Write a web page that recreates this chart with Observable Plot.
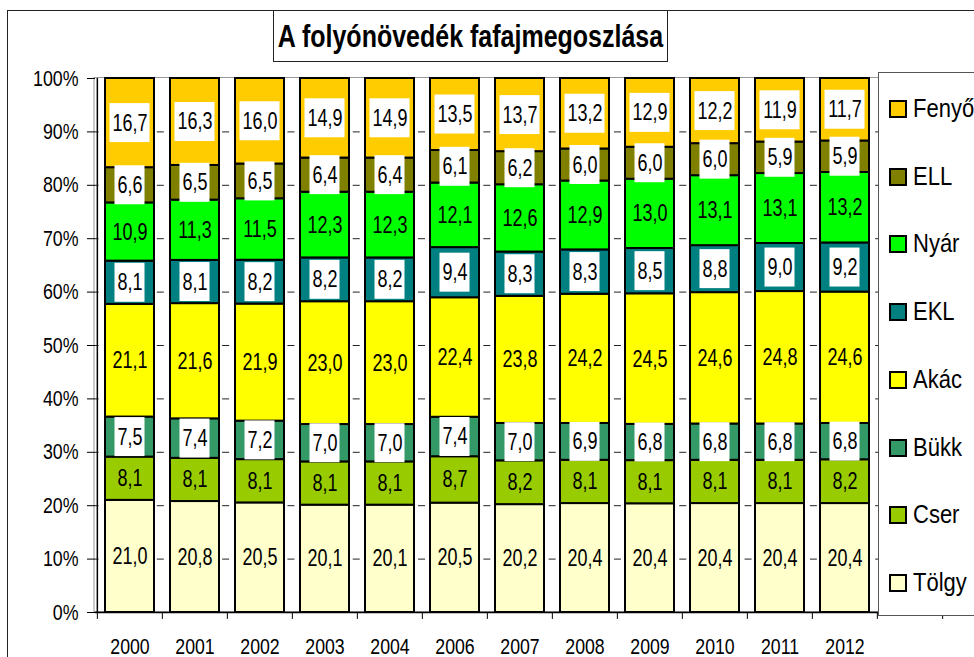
<!DOCTYPE html>
<html>
<head>
<meta charset="utf-8">
<script src="https://cdn.jsdelivr.net/npm/d3@7"></script>
<script src="https://cdn.jsdelivr.net/npm/@observablehq/plot@0.6"></script>
<style>
  body { margin: 0; background: #fff; font-family: "Liberation Sans", Arial, sans-serif; }
  #wrap { position: relative; width: 974px; height: 657px; overflow: hidden; background: #fff; }
  #chart { position: absolute; left: 0; top: 0; }
  #frame { position: absolute; left: 7px; top: 10px; width: 1100px; height: 800px;
           border-left: 1.5px solid #222; border-top: 1.5px solid #222; }
  #title { position: absolute; left: 273px; top: 10px; width: 393px; height: 50px;
           border: 1.5px solid #222; background: #fff; display: flex;
           align-items: center; justify-content: center; }
  #title span { display: inline-block; font-weight: bold; font-size: 25px; color: #000;
                transform: scaleY(1.28); white-space: nowrap; }
  #legend { position: absolute; left: 878px; top: 72px; width: 140px; height: 542px;
            border: 1px solid #555; background: #fff; }
  .item { position: absolute; left: 10px; height: 20px; display: flex; align-items: center; }
  .sw { width: 14px; height: 14px; border: 2px solid #000; box-sizing: content-box; }
  .lab { margin-left: 6px; font-size: 22px; color: #000; display: inline-block;
         transform: scaleY(1.16); white-space: nowrap; }
</style>
</head>
<body>
<div id="wrap">
  <div id="frame"></div>
  <div id="chart"></div>
  <div id="title"><span></span></div>
  <div id="legend"></div>
</div>
<script>
// ---- data ----
const title = "A folyónövedék fafajmegoszlása";
const years = ["2000","2001","2002","2003","2004","2006","2007","2008","2009","2010","2011","2012"];
const emptySlot = " ";
const species = ["Tölgy","Cser","Bükk","Akác","EKL","Nyár","ELL","Fenyő"];
const colors  = ["#FFFFCC","#99CC00","#339966","#FFFF00","#008080","#00FF00","#808000","#FFCC00"];
const boxedSpecies = ["Bükk","EKL","ELL","Fenyő"];
const tolgy = [21.0,20.8,20.5,20.1,20.1,20.5,20.2,20.4,20.4,20.4,20.4,20.4];
const cser  = [8.1,8.1,8.1,8.1,8.1,8.7,8.2,8.1,8.1,8.1,8.1,8.2];
const bukk  = [7.5,7.4,7.2,7.0,7.0,7.4,7.0,6.9,6.8,6.8,6.8,6.8];
const akac  = [21.1,21.6,21.9,23.0,23.0,22.4,23.8,24.2,24.5,24.6,24.8,24.6];
const ekl   = [8.1,8.1,8.2,8.2,8.2,9.4,8.3,8.3,8.5,8.8,9.0,9.2];
const nyar  = [10.9,11.3,11.5,12.3,12.3,12.1,12.6,12.9,13.0,13.1,13.1,13.2];
const ell   = [6.6,6.5,6.5,6.4,6.4,6.1,6.2,6.0,6.0,6.0,5.9,5.9];
const fenyo = [16.7,16.3,16.0,14.9,14.9,13.5,13.7,13.2,12.9,12.2,11.9,11.7];
const yTicks = [0,0.1,0.2,0.3,0.4,0.5,0.6,0.7,0.8,0.9,1];
const gridTicks = [0.1,0.2,0.3,0.4,0.5,0.6,0.7,0.8,0.9];

// ---- table ----
const seriesValues = [tolgy, cser, bukk, akac, ekl, nyar, ell, fenyo];
const fmt = v => v.toFixed(1).replace(".", ",");
const rows = [];
years.forEach((yr, j) => {
  const total = d3.sum(seriesValues, s => s[j]);
  let cum = 0;
  species.forEach((sp, i) => {
    const v = seriesValues[i][j];
    rows.push({year: yr, species: sp, value: v, label: fmt(v), mid: (cum + v / 2) / total});
    cum += v;
  });
});
const boxed = rows.filter(d => boxedSpecies.includes(d.species));
const boxed3 = boxed.filter(d => d.label.length <= 3);
const boxed4 = boxed.filter(d => d.label.length > 3);

// ---- layout ----
const W = 974, H = 657, mL = 95, mR = 30, mT = 78, mB = 45;
const slots = [...years, emptySlot];
const step = (W - mL - mR) / slots.length;
const boxHalf = 0.0365;
const font = "'Liberation Sans', Arial, sans-serif";

const svg = Plot.plot({
  width: W, height: H,
  marginLeft: mL, marginRight: mR, marginTop: mT, marginBottom: mB,
  style: {fontFamily: font, fontSize: "17.8px", color: "#000", background: "transparent", overflow: "visible"},
  x: {type: "band", domain: slots, paddingInner: 0.25, paddingOuter: 0.125, axis: null},
  y: {domain: [0, 1], axis: null},
  color: {domain: species, range: colors},
  marks: [
    Plot.frame({stroke: "#9a9a9a", dx: -1.5, dy: -1}),
    Plot.ruleY(gridTicks, {stroke: "#222", strokeWidth: 1, strokeDasharray: `7 ${step - 7}`, strokeDashoffset: 3.5}),
    Plot.barY(rows, Plot.stackY({x: "year", y: "value", z: "species", fill: "species", offset: "normalize",
      stroke: "#000", strokeWidth: 2})),
    Plot.barY(boxed4, {x: "year", y1: d => d.mid - boxHalf, y2: d => d.mid + boxHalf, fill: "#fff", insetLeft: 4.5, insetRight: 4.5}),
    Plot.barY(boxed3, {x: "year", y1: d => d.mid - boxHalf, y2: d => d.mid + boxHalf, fill: "#fff", insetLeft: 9.5, insetRight: 9.5}),
    Plot.text(rows, {x: "year", y: "mid", text: "label", fontSize: 18, fill: "#000", className: "vlab"}),
    // axes
    Plot.ruleX([slots[0]], {x: d => d, dx: -step / 2, y1: 0, y2: 1, stroke: "#000", strokeWidth: 1.5}),
    Plot.ruleY([0], {stroke: "#000", strokeWidth: 1.5}),
    Plot.axisY({ticks: yTicks, tickFormat: d => Math.round(d * 100) + "%", tickSize: 8, tickPadding: 9,
      fontSize: 17.8, stroke: "#000", fill: "#000", className: "ylab"}),
    Plot.ruleX(slots, {x: d => d, dx: -step / 2, y1: 0, y2: -0.013, stroke: "#000"}),
    Plot.ruleX([emptySlot], {x: d => d, dx: step / 2, y1: 0, y2: -0.013, stroke: "#000"}),
    Plot.text(years, {x: d => d, frameAnchor: "bottom", lineAnchor: "middle", dy: 34, fontSize: 17.7, fill: "#000", className: "xlab"})
  ]
});

// vertical stretch of the text, as in the reference picture
function stretch(sel, k) {
  svg.querySelectorAll(sel).forEach(t => {
    const tr = t.getAttribute("transform");
    if (tr) t.setAttribute("transform", tr + ` scale(1,${k})`);
  });
}
stretch(".vlab text", 1.3);
stretch(".ylab text", 1.25);
stretch(".xlab text", 1.25);
document.getElementById("chart").appendChild(svg);

// title
document.querySelector("#title span").textContent = title;

// legend (top = Fenyő)
const legend = document.getElementById("legend");
species.slice().reverse().forEach((sp, i) => {
  const c = colors[species.indexOf(sp)];
  const it = document.createElement("div");
  it.className = "item";
  it.style.top = (36 - 10 + i * 67.7) + "px";
  it.innerHTML = `<div class="sw" style="background:${c}"></div><span class="lab">${sp}</span>`;
  legend.appendChild(it);
});
</script>
</body>
</html>
